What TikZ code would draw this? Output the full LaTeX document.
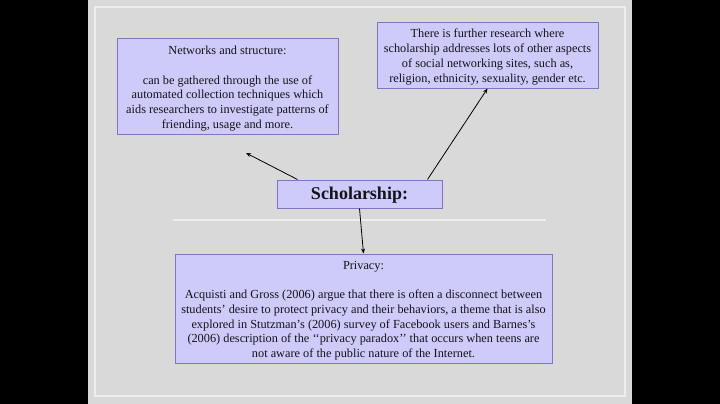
\documentclass[tikz,border=0pt]{standalone}
\usepackage{fontspec}
\setmainfont{Liberation Serif}
\usetikzlibrary{arrows.meta,calc}
\definecolor{slidegray}{RGB}{217,217,217}
\definecolor{framewhite}{RGB}{238,238,238}
\definecolor{boxfill}{RGB}{206,202,250}
\definecolor{boxline}{RGB}{128,118,190}
\definecolor{txt}{RGB}{20,20,25}
\tikzset{
  infobox/.style={draw=boxline, fill=boxfill, line width=1pt, inner sep=0pt},
  boxtext/.style={inner sep=0pt, align=center, text=txt,
    font=\fontsize{12.3}{14.7}\selectfont},
  link/.style={-{Stealth[length=5pt,width=4pt]}, line width=0.8pt, draw=black}
}
\begin{document}
\begin{tikzpicture}[x=1pt,y=-1pt]
\useasboundingbox (0,0) rectangle (720,404);
\fill[black] (0,0) rectangle (720,404);
\fill[slidegray] (88,0) rectangle (632,404);
\draw[framewhite, line width=1.5pt] (95,7) rectangle (625,396);
\draw[framewhite, line width=1.5pt] (173,220) -- (546,220);

\node[infobox, minimum width=221pt, minimum height=95pt] (net) at (227.5,86.5) {};
\node[boxtext] (nettext) at ($(net.center)+(0,2.2)$)
  {Networks and structure:\\[14.7pt]
   can be gathered through the use of\\
   automated collection techniques which\\
   aids researchers to investigate patterns of\\
   friending, usage and more.};

\node[infobox, minimum width=221pt, minimum height=65pt] (res) at (487.5,55.5) {};
\node[boxtext] (restext) at ($(res.center)+(0,1.5)$)
  {There is further research where\\
   scholarship addresses lots of other aspects\\
   of social networking sites, such as,\\
   religion, ethnicity, sexuality, gender etc.};

\node[infobox, minimum width=165pt, minimum height=28pt] (sch) at (359.5,194) {};
\node[boxtext, font=\fontsize{18}{20}\selectfont\bfseries] (schtext)
  at ($(sch.center)+(0,1)$) {Scholarship:};

\node[infobox, minimum width=377pt, minimum height=109pt] (priv) at (363.5,308.5) {};
\node[boxtext] (privtext) at ($(priv.center)+(0,2.2)$)
  {Privacy:\\[14.7pt]
   Acquisti and Gross (2006) argue that there is often a disconnect between\\
   students’ desire to protect privacy and their behaviors, a theme that is also\\
   explored in Stutzman’s (2006) survey of Facebook users and Barnes’s\\
   (2006) description of the ‘‘privacy paradox’’ that occurs when teens are\\
   not aware of the public nature of the Internet.};

\coordinate (nettip) at (246,153);
\draw[link] ($(sch.north west)+(21,0)$) -- (nettip);
\draw[link] ($(sch.north west)+(151,0)$) -- (res.south);
\draw[link] (sch.south) -- (priv.north);
\end{tikzpicture}
\end{document}
